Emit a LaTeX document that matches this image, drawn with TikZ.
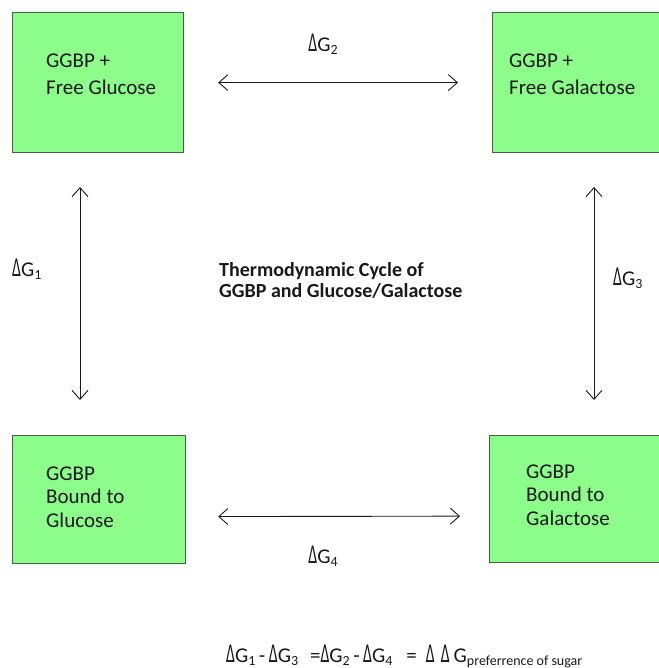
\documentclass[tikz,border=0pt]{standalone}
\usepackage{fontspec}
\usepackage{graphicx}
\setmainfont{Carlito}
\usetikzlibrary{arrows.meta}
\definecolor{boxgreen}{RGB}{140,252,138}
\definecolor{boxedge}{RGB}{70,95,70}
\definecolor{ink}{RGB}{25,25,25}
\newcommand\lowsub[1]{\raisebox{-0.3ex}{\fontsize{14}{14}\selectfont #1}}
\newcommand\tridelta{\scalebox{0.75}[1.3]{Δ}}
\begin{document}
\begin{tikzpicture}[x=1pt,y=-1pt,
  statebox/.style={draw=boxedge, line width=1.2pt, fill=boxgreen, minimum width=171pt, inner sep=0pt, anchor=north west},
  boxtext/.style={anchor=west, align=left, font=\fontsize{21}{27}\selectfont, text=ink, inner sep=0pt},
  cyc/.style={draw=ink, line width=0.9pt, {Straight Barb[length=9pt,width=16pt]}-{Straight Barb[length=9pt,width=16pt]}},
  dlabel/.style={font=\fontsize{21}{24}\selectfont, text=ink, inner sep=0pt}
]
\useasboundingbox (0,0) rectangle (658,668);

% boxes
\node[statebox, minimum height=140pt] (tl) at (12,12) {};
\node[statebox, minimum height=140pt, minimum width=176pt] (tr) at (492,12) {};
\node[statebox, minimum height=128pt, minimum width=173pt] (bl) at (12,435) {};
\node[statebox, minimum height=127pt, minimum width=178pt] (br) at (489,435) {};

% box texts
\node[boxtext] (tlt) at (46,74) {GGBP +\\Free Glucose};
\node[boxtext] (trt) at (509,74) {GGBP +\\Free Galactose};
\node[boxtext, font=\fontsize{21}{23.5}\selectfont] (blt) at (46,497) {GGBP\\Bound to\\Glucose};
\node[boxtext, font=\fontsize{21}{23.5}\selectfont] (brt) at (526,495) {GGBP\\Bound to\\Galactose};

% arrows
\draw[cyc, shorten <=34pt, shorten >=34pt] (tl.east) -- (tr.west);
\draw[cyc, shorten <=32pt, shorten >=29pt] ([yshift=-17pt]bl.east) -- ([yshift=-17pt]br.west);
\coordinate (v1a) at (80,187);
\coordinate (v1b) at (80,400);
\coordinate (v2a) at (594,187);
\coordinate (v2b) at (594,400);
\draw[cyc] (v1a) -- (v1b);
\draw[cyc] (v2a) -- (v2b);

% labels
\node[dlabel] (g2) at (323,44) {\tridelta G\lowsub{2}};
\node[dlabel, anchor=west] (g1) at (12,269) {\tridelta G\lowsub{1}};
\node[dlabel, anchor=west] (g3) at (613,278) {\tridelta G\lowsub{3}};
\node[dlabel] (g4) at (323,556) {\tridelta G\lowsub{4}};

% title
\node[anchor=west, align=left, font=\bfseries\fontsize{20}{21}\selectfont, text=ink, inner sep=0pt] (title) at (219,280)
  {Thermodynamic Cycle of\\GGBP and Glucose/Galactose};

% equation
\node[anchor=base west, font=\fontsize{21}{24}\selectfont, text=ink, inner sep=0pt] (eq) at (226,662)
  {\tridelta G\lowsub{1}\,-\,\tridelta G\lowsub{3}\hspace{12pt}=\tridelta G\lowsub{2}\,-\,\tridelta G\lowsub{4}\hspace{14pt}=\hspace{9pt}\tridelta\hspace{6pt}\tridelta\hspace{4pt}G\lowsub{preferrence of sugar}};
\end{tikzpicture}
\end{document}
